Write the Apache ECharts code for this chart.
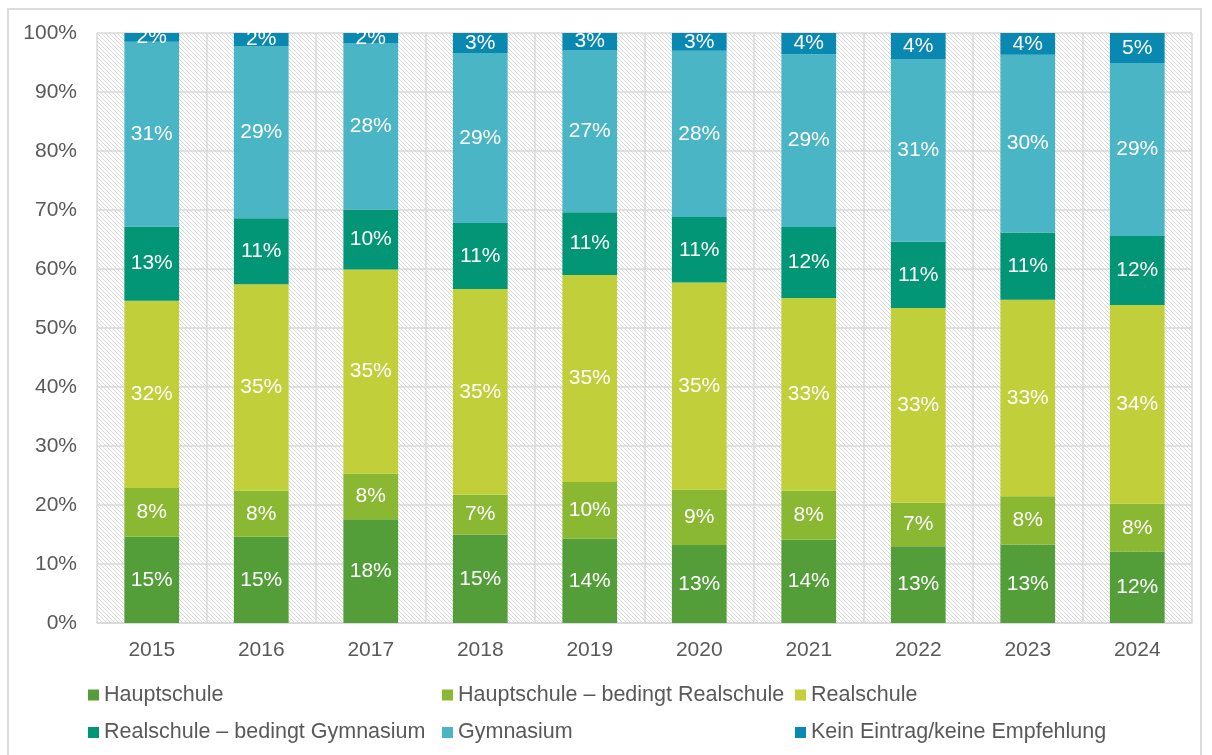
<!DOCTYPE html>
<html>
<head>
<meta charset="utf-8">
<script src="https://cdn.jsdelivr.net/npm/echarts@6/dist/echarts.min.js"></script>
<style>
  html, body { margin: 0; padding: 0; background: #ffffff; }
  #frame { position: absolute; left: 7px; top: 8px; width: 1195px; height: 760px; border: 2px solid #dcdcdc; box-sizing: border-box; }
  #chart { position: absolute; left: 0; top: 0; width: 1212px; height: 755px; }
</style>
</head>
<body>
<div id="frame"></div>
<div id="chart"></div>
<script>
// ---- data ----
const years = ['2015', '2016', '2017', '2018', '2019', '2020', '2021', '2022', '2023', '2024'];
const hauptschule = [14.6, 14.6, 17.6, 15.0, 14.3, 13.2, 14.1, 13.0, 13.3, 12.1];
const hauptschuleBedingt = [8.3, 7.8, 7.7, 6.75, 9.6, 9.4, 8.3, 7.4, 8.2, 8.1];
const realschule = [31.7, 35.0, 34.6, 34.85, 35.1, 35.1, 32.7, 33.0, 33.3, 33.7];
const realschuleBedingt = [12.6, 11.2, 10.2, 11.2, 10.6, 11.1, 12.0, 11.2, 11.4, 11.7];
const gymnasium = [31.3, 29.2, 28.1, 28.8, 27.45, 28.2, 29.3, 31.0, 30.1, 29.3];
const keinEintrag = [1.5, 2.2, 1.8, 3.4, 2.95, 3.0, 3.6, 4.4, 3.7, 5.1];

const seriesNames = [
  'Hauptschule',
  'Hauptschule – bedingt Realschule',
  'Realschule',
  'Realschule – bedingt Gymnasium',
  'Gymnasium',
  'Kein Eintrag/keine Empfehlung'
];
const seriesData = [hauptschule, hauptschuleBedingt, realschule, realschuleBedingt, gymnasium, keinEintrag];
const colors = ['#549E39', '#8AB833', '#C0CF3A', '#029676', '#4AB5C4', '#0989B1'];

// ---- hatch pattern for plot background ----
const tile = document.createElement('canvas');
tile.width = 4; tile.height = 4;
const tctx = tile.getContext('2d');
tctx.fillStyle = '#ffffff';
tctx.fillRect(0, 0, 4, 4);
tctx.fillStyle = '#d8d8d8';
for (let i = 0; i < 4; i++) { tctx.fillRect(i, i, 1, 1); }

const FONT = "'Liberation Sans', Arial, sans-serif";
const chart = echarts.init(document.getElementById('chart'), null, { renderer: 'canvas' });

const legendBase = {
  orient: 'vertical',
  top: 684,
  padding: 0,
  itemWidth: 11,
  itemHeight: 11,
  itemGap: 15.5,
  icon: 'rect',
  selectedMode: false,
  textStyle: { fontFamily: FONT, fontSize: 21.5, color: '#595959', lineHeight: 22 }
};

chart.setOption({
  animation: false,
  color: colors,
  grid: {
    left: 97, right: 20, top: 33, bottom: 132,
    show: true, borderWidth: 0,
    backgroundColor: { image: tile, repeat: 'repeat' }
  },
  legend: [
    Object.assign({}, legendBase, { left: 88, data: [seriesNames[0], seriesNames[3]] }),
    Object.assign({}, legendBase, { left: 442, data: [seriesNames[1], seriesNames[4]] }),
    Object.assign({}, legendBase, { left: 795, data: [seriesNames[2], seriesNames[5]] })
  ],
  xAxis: {
    type: 'category',
    data: years,
    axisTick: { show: false },
    axisLine: { show: true, lineStyle: { color: '#d9d9d9', width: 1.5 } },
    splitLine: { show: true, lineStyle: { color: '#d9d9d9', width: 1.5 } },
    axisLabel: { fontFamily: FONT, fontSize: 21, color: '#595959', margin: 17 }
  },
  yAxis: {
    type: 'value',
    min: 0, max: 100, interval: 10,
    axisLine: { show: false },
    axisTick: { show: false },
    splitLine: { show: true, lineStyle: { color: '#d9d9d9', width: 1.5 } },
    axisLabel: { fontFamily: FONT, fontSize: 21, color: '#595959', margin: 20, formatter: '{value}%' }
  },
  series: seriesNames.map((name, i) => ({
    name: name,
    type: 'bar',
    stack: 'total',
    barWidth: '50%',
    data: seriesData[i],
    itemStyle: { color: colors[i] },
    label: {
      show: true,
      position: 'inside',
      color: '#ffffff',
      fontFamily: FONT,
      fontSize: 21,
      formatter: p => Math.round(p.value) + '%'
    }
  }))
});
</script>
</body>
</html>
